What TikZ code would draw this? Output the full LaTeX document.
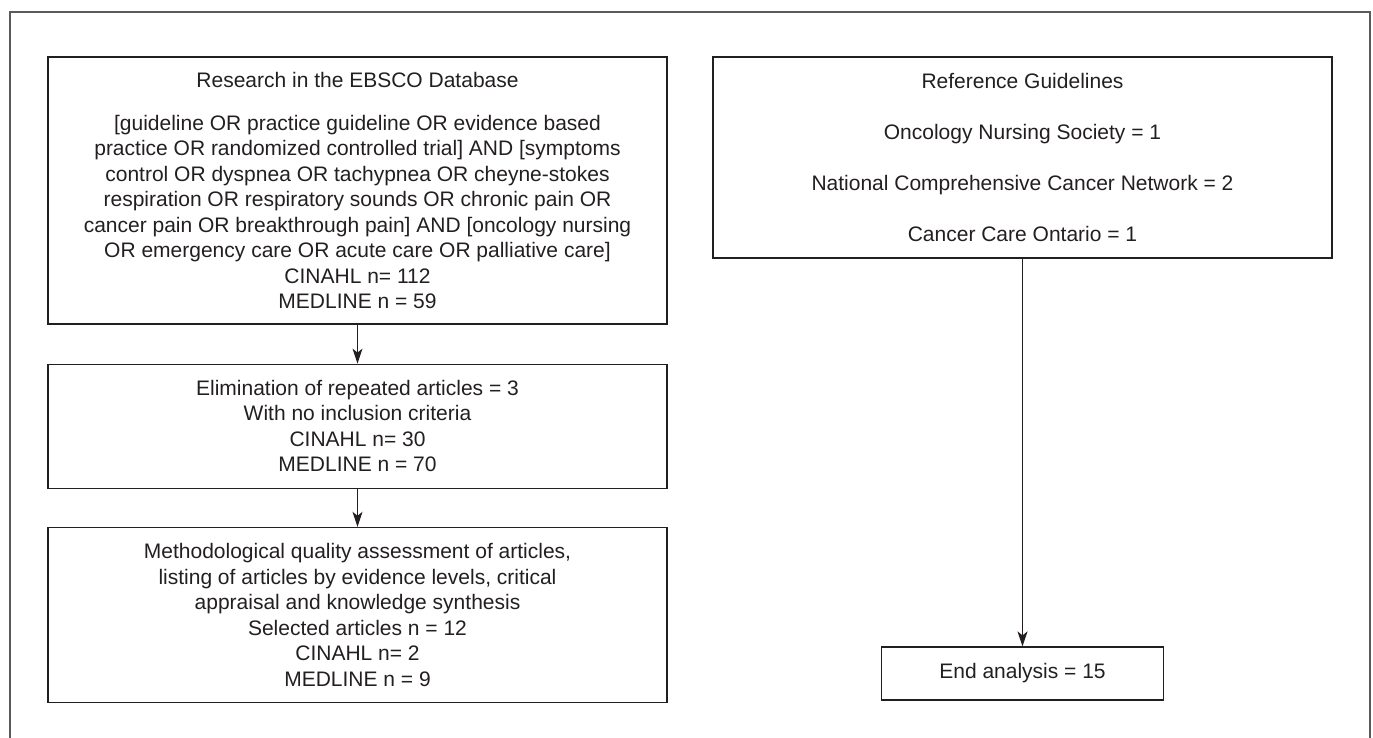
\documentclass[tikz,border=0pt]{standalone}
\usepackage{fontspec}
\setmainfont{Liberation Sans}
\usetikzlibrary{positioning,arrows.meta}
\definecolor{inkgray}{HTML}{231F20}
\definecolor{framegray}{HTML}{5A5A5A}

\tikzstyle{stage}=[draw=inkgray, line width=1.2pt, align=center, inner sep=0pt, text=inkgray, font=\fontsize{21}{25.5}\selectfont]
\tikzstyle{flow}=[draw=inkgray, line width=1pt, -{Stealth[length=15pt,width=10pt,inset=4pt]}]
\newcommand{\colwidth}{619pt}

\begin{document}
\begin{tikzpicture}[x=1pt, y=-1pt]
    \useasboundingbox (0,0) rectangle (1373,738);
    % Outer frame, open at the bottom
    \draw[framegray, line width=2pt] (10,738) -- (10,12) -- (1370,12) -- (1370,738);
    % Left column: the search steps
    \node[stage, minimum width=\colwidth, minimum height=267pt] (search) at (357.5,190.5)
        {Research in the EBSCO Database\\[17pt]
         [guideline OR practice guideline OR evidence based\\
         practice OR randomized controlled trial] AND [symptoms\\
         control OR dyspnea OR tachypnea OR cheyne-stokes\\
         respiration OR respiratory sounds OR chronic pain OR\\
         cancer pain OR breakthrough pain] AND [oncology nursing\\
         OR emergency care OR acute care OR palliative care]\\
         CINAHL n= 112\\
         MEDLINE n = 59};
    \node[stage, minimum width=\colwidth, minimum height=124pt, below=39pt of search] (elim)
        {Elimination of repeated articles = 3\\
         With no inclusion criteria\\
         CINAHL n= 30\\
         MEDLINE n = 70};
    \node[stage, minimum width=\colwidth, minimum height=175pt, below=38pt of elim] (quality)
        {Methodological quality assessment of articles,\\
         listing of articles by evidence levels, critical\\
         appraisal and knowledge synthesis\\
         Selected articles n = 12\\
         CINAHL n= 2\\
         MEDLINE n = 9};
    % Right column: guidelines and the result
    \node[stage, minimum width=\colwidth, minimum height=201pt] (refs) at (1022.5,157.5)
        {Reference Guidelines\\[25.5pt]
         Oncology Nursing Society = 1\\[25.5pt]
         National Comprehensive Cancer Network = 2\\[25.5pt]
         Cancer Care Ontario = 1};
    \node[stage, minimum width=282pt, minimum height=53pt] (final) at (1022.5,673.5) {End analysis = 15};
    % Connect the boxes
    \foreach \source/\dest in {search/elim, elim/quality, refs/final}
        \path[flow] (\source) -- (\dest);
\end{tikzpicture}
\end{document}
